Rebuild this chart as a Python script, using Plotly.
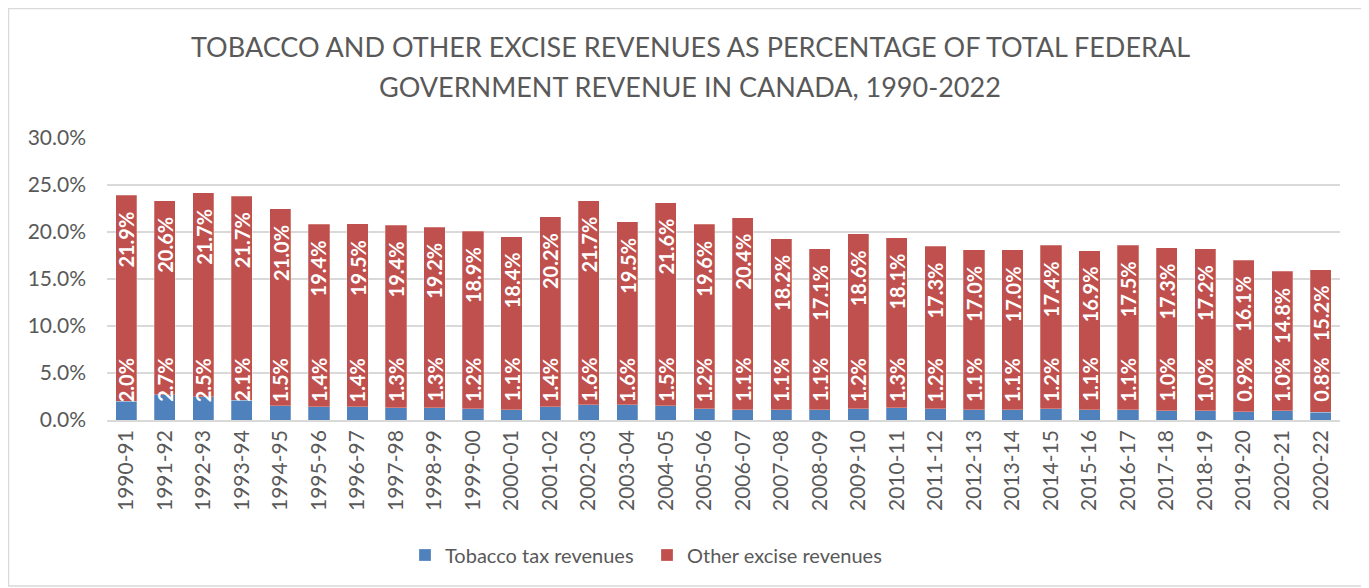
import plotly.graph_objects as go

years = ["1990-91", "1991-92", "1992-93", "1993-94", "1994-95", "1995-96", "1996-97", "1997-98",
         "1998-99", "1999-00", "2000-01", "2001-02", "2002-03", "2003-04", "2004-05", "2005-06",
         "2006-07", "2007-08", "2008-09", "2009-10", "2010-11", "2011-12", "2012-13", "2013-14",
         "2014-15", "2015-16", "2016-17", "2017-18", "2018-19", "2019-20", "2020-21", "2020-22"]
tobacco = [2.0, 2.7, 2.5, 2.1, 1.5, 1.4, 1.4, 1.3, 1.3, 1.2, 1.1, 1.4, 1.6, 1.6, 1.5, 1.2,
           1.1, 1.1, 1.1, 1.2, 1.3, 1.2, 1.1, 1.1, 1.2, 1.1, 1.1, 1.0, 1.0, 0.9, 1.0, 0.8]
other = [21.9, 20.6, 21.7, 21.7, 21.0, 19.4, 19.5, 19.4, 19.2, 18.9, 18.4, 20.2, 21.7, 19.5, 21.6, 19.6,
         20.4, 18.2, 17.1, 18.6, 18.1, 17.3, 17.0, 17.0, 17.4, 16.9, 17.5, 17.3, 17.2, 16.1, 14.8, 15.2]
y_ticks = [0, 5, 10, 15, 20, 25, 30]
y_tick_labels = ["0.0%", "5.0%", "10.0%", "15.0%", "20.0%", "25.0%", "30.0%"]
title_lines = ["TOBACCO AND OTHER EXCISE REVENUES AS PERCENTAGE OF TOTAL FEDERAL",
               "GOVERNMENT REVENUE IN CANADA, 1990-2022"]

FONT = "Lato, 'Open Sans', sans-serif"
BLUE = "#4F81BD"
RED = "#C0504D"
GREY = "#595959"

# The page body has an 8px default margin; the figure is sized/offset to compensate.
OFF = 8
FW, FH = 1369 - OFF, 588 - OFF

fig = go.Figure()
fig.add_trace(go.Bar(x=years, y=tobacco, name="Tobacco tax revenues",
                     marker=dict(color=BLUE, line=dict(color="rgba(255,255,255,0.5)", width=0.5))))
fig.add_trace(go.Bar(x=years, y=other, name="Other excise revenues",
                     marker=dict(color=RED, line=dict(color="rgba(255,255,255,0.5)", width=0.5))))

# plot-area geometry (screen pixels of the reference)
L, PW = 107, 1233
T0, PH = 420, 282

def px_x(p):
    return (p - L) / PW

def px_y(p):
    return (T0 - p) / PH

annotations = []
for cat, t, o in zip(years, tobacco, other):
    annotations.append(dict(x=cat, y=0, xref="x", yref="y", text=f"<b>{t:.1f}%</b>",
                            textangle=-90, showarrow=False, yanchor="bottom", yshift=16,
                            font=dict(family=FONT, size=20, color="white")))
    annotations.append(dict(x=cat, y=t + o, xref="x", yref="y", text=f"<b>{o:.1f}%</b>",
                            textangle=-90, showarrow=False, yanchor="top", yshift=-14,
                            font=dict(family=FONT, size=20, color="white")))

for line, yc in zip(title_lines, [47, 87]):
    annotations.append(dict(x=px_x(690), y=px_y(yc), xref="paper", yref="paper", text=line,
                            showarrow=False, xanchor="center", yanchor="middle",
                            font=dict(family=FONT, size=27, color=GREY)))

shapes = [dict(type="rect", xref="paper", yref="paper",
               x0=px_x(OFF + 0.5), x1=px_x(1366), y0=px_y(586), y1=px_y(OFF + 0.5),
               line=dict(color="#D9D9D9", width=1.5), fillcolor="rgba(0,0,0,0)", layer="below")]

fig.update_layout(
    width=FW, height=FH,
    barmode="stack", bargap=0.45,
    paper_bgcolor="white", plot_bgcolor="white",
    margin=dict(l=L - OFF, r=FW - (L - OFF) - PW, t=138 - OFF, b=FH - (T0 - OFF)),
    font=dict(family=FONT, color=GREY),
    xaxis=dict(type="category", tickangle=-90, tickfont=dict(size=21, color=GREY), showline=True,
               linecolor="#D9D9D9", linewidth=1.5, ticks="", showgrid=False),
    yaxis=dict(range=[0, 30], tickvals=y_ticks, ticktext=y_tick_labels,
               tickfont=dict(size=21, color=GREY), showgrid=True, gridcolor="#D9D9D9",
               gridwidth=1.5, zeroline=False, ticks="", ticklabelstandoff=20),
    legend=dict(orientation="h", xref="container", yref="container",
                x=(405 - OFF) / FW, xanchor="left", y=(FH - (555 - OFF)) / FH, yanchor="middle",
                entrywidth=197, entrywidthmode="pixels",
                font=dict(size=20, color=GREY), traceorder="normal"),
    annotations=annotations,
    shapes=shapes,
)

fig.write_html("out.html")
